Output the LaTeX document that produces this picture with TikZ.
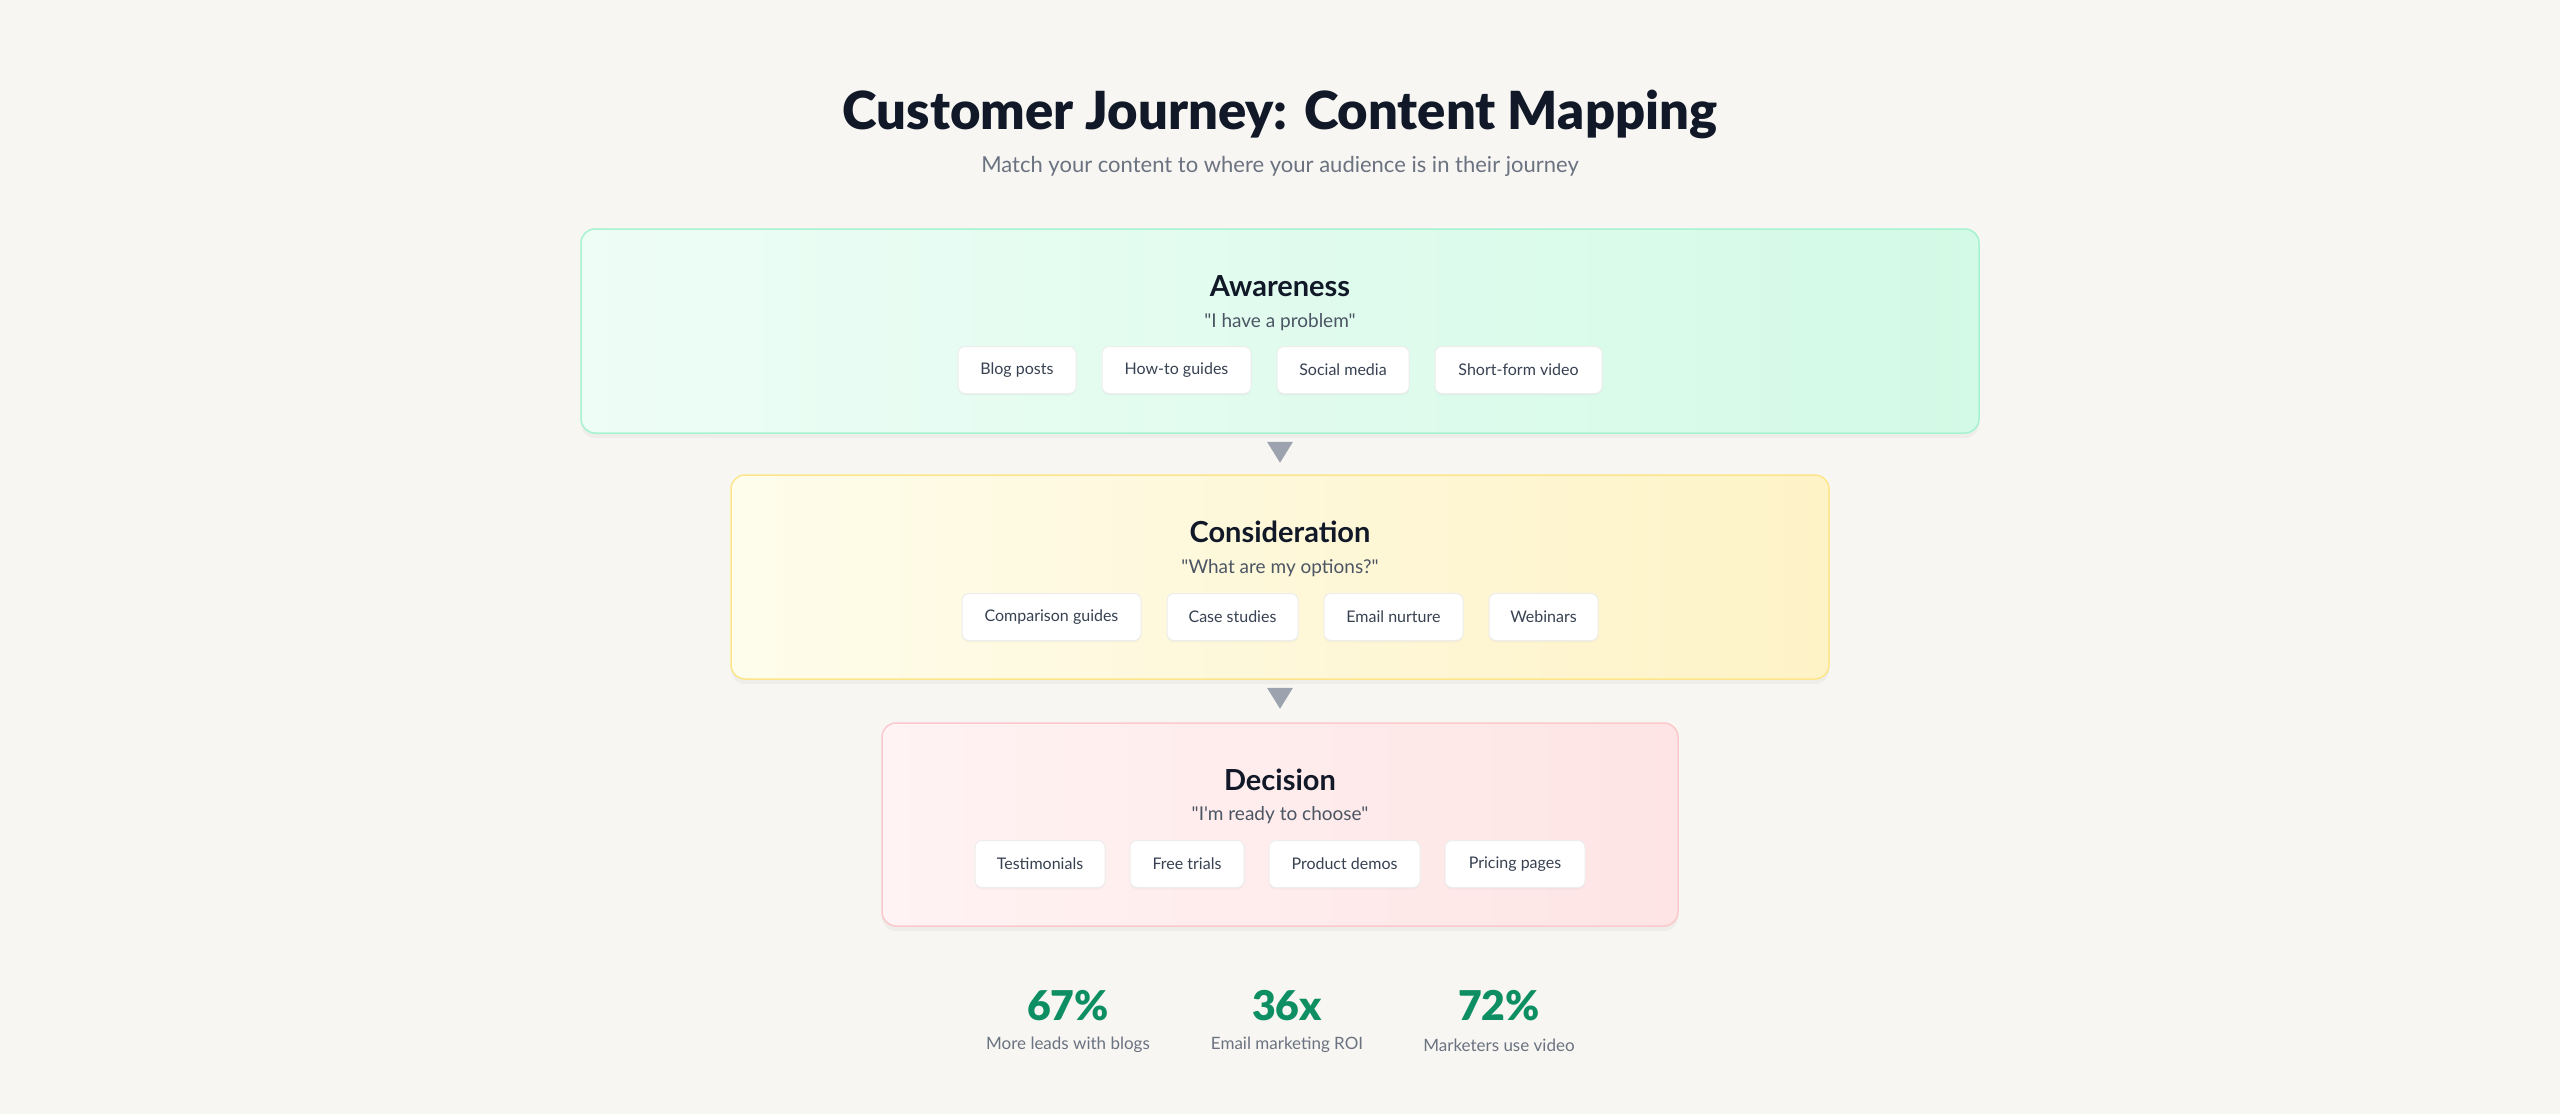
\documentclass[tikz,border=0pt]{standalone}
\usepackage{fontspec}
\setmainfont{Lato}[Ligatures=TeXOff]
\newfontfamily\blackfont{Lato Black}[Ligatures=TeXOff]
\usetikzlibrary{shadows,calc}
\definecolor{bgc}{HTML}{F7F6F3}
\definecolor{ink}{HTML}{111827}
\definecolor{subc}{HTML}{6B7280}
\definecolor{quotec}{HTML}{4B5563}
\definecolor{chipc}{HTML}{374151}
\definecolor{arrowc}{HTML}{9CA3AF}
\definecolor{statc}{HTML}{0E8F63}
\definecolor{gA}{HTML}{EEFDF6}\definecolor{gB}{HTML}{D3FAE6}\definecolor{gL}{HTML}{A7F3D0}
\definecolor{yA}{HTML}{FEFCEB}\definecolor{yB}{HTML}{FEF3C7}\definecolor{yL}{HTML}{FDE68A}
\definecolor{rA}{HTML}{FFF3F3}\definecolor{rB}{HTML}{FEE4E4}\definecolor{rL}{HTML}{FBC8CC}
\begin{document}
\begin{tikzpicture}[x=1pt,y=-1pt,
  stagebox/.style={draw=#1, line width=1.5pt, rounded corners=14pt, inner sep=0pt,
    drop shadow={opacity=0.07, shadow xshift=0pt, shadow yshift=-5pt}},
  chip/.style={draw=black!7, line width=1pt, fill=white, rounded corners=7pt, inner sep=0pt,
    minimum height=47pt, minimum width=#1, text=chipc, font=\fontsize{16}{19}\selectfont,
    drop shadow={opacity=0.05, shadow xshift=0pt, shadow yshift=-2pt}},
  stagetitle/.style={text=ink, font=\fontsize{29}{34}\selectfont\bfseries},
  quote/.style={text=quotec, font=\fontsize{19}{23}\selectfont},
  statnum/.style={text=statc, font=\fontsize{41}{47}\selectfont\blackfont},
  statlab/.style={text=subc, font=\fontsize{17}{20}\selectfont},
  tri/.style={fill=arrowc}
]
\fill[bgc] (0,0) rectangle (2560,1114);
\useasboundingbox (0,0) rectangle (2560,1114);

\node[text=ink, font=\fontsize{52.5}{60}\selectfont\blackfont] (title) at (1280,114) {Customer Journey: Content Mapping};
\node[text=subc, font=\fontsize{22}{26}\selectfont] (subtitle) at (1280,166) {Match your content to where your audience is in their journey};

% Awareness
\node[stagebox=gL, left color=gA, right color=gB, minimum width=1398pt, minimum height=204pt] (aw) at (1280,331) {};
\node[stagetitle] (awt) at (1280,286) {Awareness};
\node[quote] (awq) at (1280,322) {"I have a problem"};
\node[chip=118pt] (a1) at (1017,370) {Blog posts};
\node[chip=149pt] (a2) at (1176.5,370) {How-to guides};
\node[chip=132pt] (a3) at (1343,370) {Social media};
\node[chip=167pt] (a4) at (1518.5,370) {Short-form video};

% Consideration
\node[stagebox=yL, left color=yA, right color=yB, minimum width=1098pt, minimum height=204pt] (co) at (1280,577) {};
\node[stagetitle] (cot) at (1280,532) {Consideration};
\node[quote] (coq) at (1280,568) {"What are my options?"};
\node[chip=179pt] (c1) at (1051.5,617) {Comparison guides};
\node[chip=131pt] (c2) at (1232.5,617) {Case studies};
\node[chip=139pt] (c3) at (1393.5,617) {Email nurture};
\node[chip=109pt] (c4) at (1543.5,617) {Webinars};

% Decision
\node[stagebox=rL, left color=rA, right color=rB, minimum width=796pt, minimum height=203pt] (de) at (1280,824.5) {};
\node[stagetitle] (det) at (1280,780) {Decision};
\node[quote] (deq) at (1280,815) {"I'm ready to choose"};
\node[chip=130pt] (d1) at (1040,864) {Testimonials};
\node[chip=114pt] (d2) at (1187,864) {Free trials};
\node[chip=151pt] (d3) at (1344.5,864) {Product demos};
\node[chip=140pt] (d4) at (1515,864) {Pricing pages};

% arrows between stages
\fill[tri] ($(aw.south)+(-13,8)$) -- ($(aw.south)+(13,8)$) -- ($(aw.south)+(0,29)$) -- cycle;
\fill[tri] ($(co.south)+(-13,8)$) -- ($(co.south)+(13,8)$) -- ($(co.south)+(0,29)$) -- cycle;

% stats
\node[statnum] (s1) at (1068,1006) {67\%};
\node[statlab] (l1) at (1068,1045) {More leads with blogs};
\node[statnum] (s2) at (1287,1006) {36x};
\node[statlab] (l2) at (1287,1045) {Email marketing ROI};
\node[statnum] (s3) at (1499,1006) {72\%};
\node[statlab] (l3) at (1499,1045) {Marketers use video};
\end{tikzpicture}
\end{document}
